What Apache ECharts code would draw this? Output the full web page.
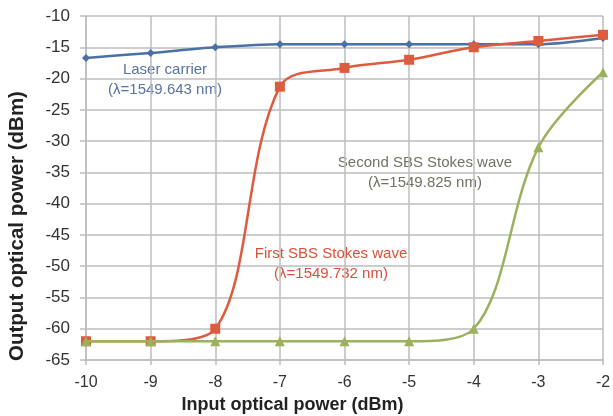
<!DOCTYPE html>
<html>
<head>
<meta charset="utf-8">
<script src="https://cdn.jsdelivr.net/npm/echarts@6/dist/echarts.min.js"></script>
<style>
  html, body { margin: 0; padding: 0; background: #fff; }
  #chart { width: 613px; height: 416px; }
</style>
</head>
<body>
<div id="chart"></div>
<script>
// Input optical power (dBm)
const inputPower = [-10, -9, -8, -7, -6, -5, -4, -3, -2];
// Output optical power (dBm) of each spectral component
const laserCarrier = [-16.7, -15.9, -15, -14.5, -14.5, -14.5, -14.5, -14.5, -13.5];
const firstStokes = [-62, -62, -60, -21.3, -18.3, -17, -15, -14, -13];
const secondStokes = [-62, -62, -62, -62, -62, -62, -60, -31, -19];

const yTicks = { min: -65, max: -10, step: 5 };
const xTicks = { min: -10, max: -2, step: 1 };

const pairs = (ys) => inputPower.map((x, i) => [x, ys[i]]);

const chart = echarts.init(document.getElementById('chart'), null, { renderer: 'canvas' });

const FONT = 'Liberation Sans, Arial, sans-serif';
const nameText = { color: '#222', fontWeight: 'bold', fontFamily: FONT };
const gridLine = { show: true, lineStyle: { color: '#bdbdbd', width: 1.5 } };

chart.setOption({
  animation: false,
  backgroundColor: '#fff',
  grid: { left: 86, right: 10, top: 16, bottom: 56, containLabel: false, outerBoundsMode: 'none', show: false },
  xAxis: {
    type: 'value',
    min: xTicks.min, max: xTicks.max, interval: xTicks.step,
    axisLine: { show: true, lineStyle: { color: '#bdbdbd', width: 1.5 } },
    axisTick: { show: true, length: 5, lineStyle: { color: '#bdbdbd', width: 1.5 } },
    splitLine: gridLine,
    axisLabel: { margin: 15, color: '#333', fontSize: 16, fontFamily: FONT },
    name: 'Input optical power (dBm)',
    nameLocation: 'middle',
    nameGap: 36,
    nameTextStyle: Object.assign({ fontSize: 18, padding: [0, 104, 0, 0] }, nameText)
  },
  yAxis: {
    type: 'value',
    min: yTicks.min, max: yTicks.max, interval: yTicks.step,
    axisLine: { show: true, lineStyle: { color: '#bdbdbd', width: 1.5 } },
    axisTick: { show: true, length: 6, lineStyle: { color: '#bdbdbd', width: 1.5 } },
    splitLine: gridLine,
    axisLabel: { margin: 16, color: '#333', fontSize: 17, fontFamily: FONT },
    name: 'Output optical power (dBm)',
    nameLocation: 'middle',
    nameGap: 58,
    nameTextStyle: Object.assign({ fontSize: 20.5, padding: [0, 76, 0, 0] }, nameText)
  },
  series: [
    {
      name: 'Laser carrier',
      type: 'line',
      data: pairs(laserCarrier),
      smooth: 0.3,
      symbol: 'diamond',
      symbolSize: 8,
      lineStyle: { color: '#4b70a6', width: 2.5 },
      itemStyle: { color: '#4b70a6' },
      z: 3
    },
    {
      name: 'First SBS Stokes wave',
      type: 'line',
      data: pairs(firstStokes),
      smooth: 0.35,
      symbol: 'rect',
      symbolSize: 10,
      lineStyle: { color: '#dd5b3e', width: 2.5 },
      itemStyle: { color: '#dd5b3e' },
      z: 4
    },
    {
      name: 'Second SBS Stokes wave',
      type: 'line',
      data: pairs(secondStokes),
      smooth: 0.35,
      symbol: 'triangle',
      symbolSize: 10,
      lineStyle: { color: '#9bb15e', width: 2.5 },
      itemStyle: { color: '#9bb15e' },
      z: 5
    }
  ],
  graphic: [
    {
      type: 'text', x: 165, y: 80,
      style: { text: 'Laser carrier\n(λ=1549.643 nm)', align: 'center', verticalAlign: 'middle',
               fill: '#5873a0', fontSize: 15, lineHeight: 20, fontFamily: FONT }
    },
    {
      type: 'text', x: 425, y: 173,
      style: { text: 'Second SBS Stokes wave\n(λ=1549.825 nm)', align: 'center', verticalAlign: 'middle',
               fill: '#727262', fontSize: 15, lineHeight: 20, fontFamily: FONT }
    },
    {
      type: 'text', x: 331, y: 264,
      style: { text: 'First SBS Stokes wave\n(λ=1549.732 nm)', align: 'center', verticalAlign: 'middle',
               fill: '#d8513a', fontSize: 15, lineHeight: 20, fontFamily: FONT }
    }
  ]
});
</script>
</body>
</html>
